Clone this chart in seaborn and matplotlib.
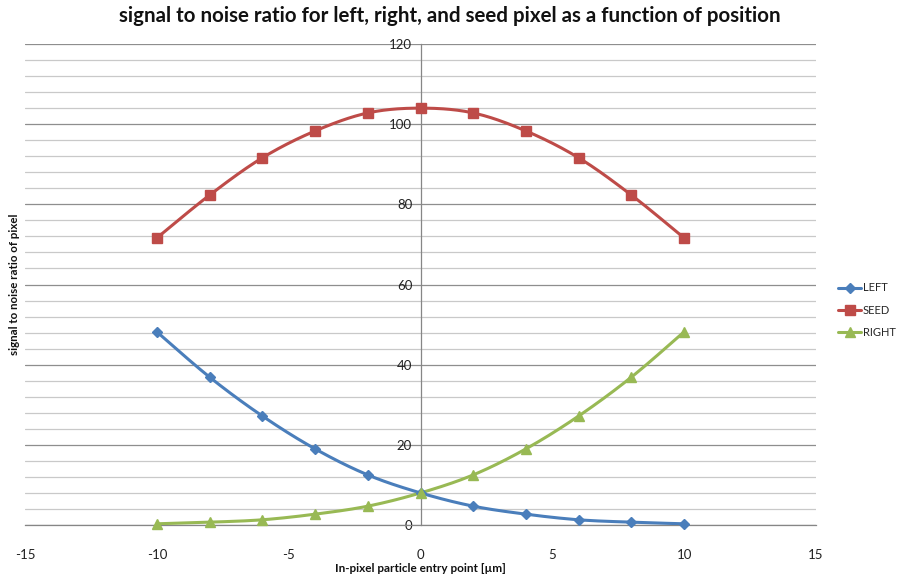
import numpy as np
import pandas as pd
import matplotlib
matplotlib.use("Agg")
import matplotlib.pyplot as plt
from matplotlib.lines import Line2D
from matplotlib.ticker import MultipleLocator
import seaborn as sns

# Entry position across the pixel [um]
positions = [-10, -8, -6, -4, -2, 0, 2, 4, 6, 8, 10]

# Signal-to-noise ratio per pixel
snr_left = [48.2, 36.9, 27.2, 19.0, 12.5, 8.0, 4.7, 2.7, 1.3, 0.7, 0.3]
snr_seed = [71.6, 82.3, 91.6, 98.3, 102.8, 104.0, 102.8, 98.3, 91.6, 82.3, 71.6]
snr_right = [0.3, 0.7, 1.3, 2.7, 4.7, 8.0, 12.5, 19.0, 27.2, 36.9, 48.2]

series_names = ["LEFT", "SEED", "RIGHT"]
series_colors = ["#4A7EBB", "#BE4B48", "#98B954"]
series_markers = ["D", "s", "^"]
series_msize = [5.5, 6.5, 7]

x_ticks = [-15, -10, -5, 0, 5, 10, 15]
y_ticks = [0, 20, 40, 60, 80, 100, 120]


def smooth_curve(x, y, n=30, tension=1.0 / 6.0):
    """Bezier smoothing through every point (spreadsheet-style smoothed line)."""
    x = np.asarray(x, float)
    y = np.asarray(y, float)
    pts = np.column_stack([x, y])
    out = []
    for i in range(len(pts) - 1):
        p0 = pts[i - 1] if i > 0 else pts[i]
        p1 = pts[i]
        p2 = pts[i + 1]
        p3 = pts[i + 2] if i + 2 < len(pts) else pts[i + 1]
        c1 = p1 + (p2 - p0) * tension
        c2 = p2 - (p3 - p1) * tension
        t = np.linspace(0, 1, n, endpoint=(i == len(pts) - 2))[:, None]
        seg = ((1 - t) ** 3) * p1 + 3 * ((1 - t) ** 2) * t * c1 + 3 * (1 - t) * t ** 2 * c2 + t ** 3 * p2
        out.append(seg)
    out = np.vstack(out)
    return out[:, 0], out[:, 1]


sns.set_theme(style="white")
plt.rcParams["font.family"] = ["Lato", "DejaVu Sans"]

fig = plt.figure(figsize=(9.02, 5.81), dpi=100)
ax = fig.add_axes([25 / 902, 1 - 525 / 581, (816 - 25) / 902, (525 - 44) / 581])

ax.set_xlim(-15, 15)
ax.set_ylim(0, 120)

# Gridlines: minor every 4, major every 20
ax.yaxis.set_major_locator(MultipleLocator(20))
ax.yaxis.set_minor_locator(MultipleLocator(4))
ax.grid(which="minor", axis="y", color="#C9C9C9", linewidth=0.9)
ax.grid(which="major", axis="y", color="#8E8E8E", linewidth=0.9)
ax.grid(which="both", axis="x", visible=False)
ax.set_axisbelow(True)

for s in ["top", "right"]:
    ax.spines[s].set_visible(False)
ax.spines["left"].set_position(("data", 0))
ax.spines["left"].set_color("#868686")
ax.spines["left"].set_linewidth(0.9)
ax.spines["bottom"].set_color("#868686")
ax.spines["bottom"].set_linewidth(0.9)

series = [snr_left, snr_seed, snr_right]
handles = []
for name, vals, col, mk, ms in zip(series_names, series, series_colors, series_markers, series_msize):
    sx, sy = smooth_curve(positions, vals)
    df = pd.DataFrame({"x": sx, "y": sy})
    sns.lineplot(data=df, x="x", y="y", ax=ax, color=col, linewidth=2.2, sort=False,
                 estimator=None, zorder=3)
    ax.plot(positions, vals, linestyle="none", marker=mk, markersize=ms, color=col,
            markeredgecolor=col, zorder=4, clip_on=False)
    handles.append(Line2D([0], [0], color=col, linewidth=2.2, marker=mk, markersize=ms,
                          markeredgecolor=col, label=name))

ax.set_xticks(x_ticks)
ax.set_xticklabels([str(v) for v in x_ticks])
ax.set_yticks(y_ticks)
ax.set_yticklabels([str(v) for v in y_ticks])
ax.tick_params(axis="x", which="both", length=0, pad=17, labelsize=9.5, colors="#222222")
ax.tick_params(axis="y", which="major", length=0, pad=6, labelsize=9.5, colors="#222222")
ax.tick_params(axis="y", which="minor", length=0)

ax.set_xlabel("")
ax.set_ylabel("")

fig.text(450 / 902, 1 - 16 / 581, "signal to noise ratio for left, right, and seed pixel as a function of position",
         ha="center", va="center", fontsize=14.8, fontweight="bold", color="#111111")
fig.text(420 / 902, 1 - 568 / 581, "In-pixel particle entry point [\u00b5m]",
         ha="center", va="center", fontsize=8.5, fontweight="bold", color="#111111")
fig.text(15 / 902, 1 - 284 / 581, "signal to noise ratio of pixel", rotation=90,
         ha="center", va="center", fontsize=8.3, fontweight="bold", color="#111111")

fig.legend(handles=handles, loc="center left", bbox_to_anchor=(838 / 902, 1 - 310 / 581),
           frameon=False, fontsize=8, handlelength=2.1, labelspacing=1.0, handletextpad=0.15,
           borderaxespad=0, borderpad=0)

fig.savefig("out.png", dpi=100)
